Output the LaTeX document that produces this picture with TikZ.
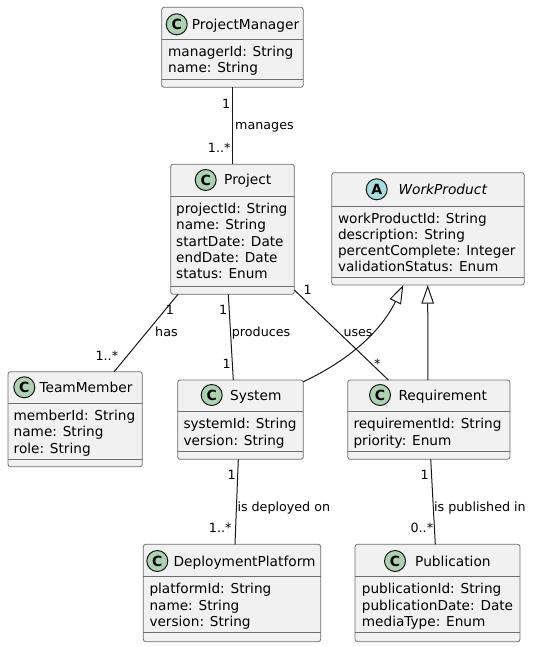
\documentclass[tikz,border=0pt]{standalone}
\usepackage{fontspec}
\setmainfont{DejaVu Sans}
\usetikzlibrary{arrows.meta}
\definecolor{boxfill}{HTML}{F1F1F1}
\definecolor{ink}{HTML}{181818}
\definecolor{frame}{HTML}{6E6E6E}
\definecolor{cgreen}{HTML}{ADD1B2}
\definecolor{acyan}{HTML}{A9DCDF}
\tikzset{
  classbox/.style={draw=frame, fill=boxfill, line width=0.8pt, rounded corners=2.5pt, inner sep=0pt, outer sep=0pt, anchor=north west},
  sepline/.style={draw=frame, line width=0.8pt},
  badge/.style={circle, draw=ink, line width=1pt, minimum size=21pt, inner sep=0pt, font=\fontsize{14}{14}\selectfont\bfseries},
  ctitle/.style={anchor=base west, inner sep=0pt, font=\fontsize{13.75}{16}\selectfont},
  attr/.style={anchor=base west, inner sep=0pt, font=\fontsize{13.65}{16}\selectfont},
  elabel/.style={inner sep=0pt, font=\fontsize{12.7}{15}\selectfont},
  assoc/.style={draw=ink, line width=1pt},
  inherit/.style={draw=ink, line width=1pt, -{Triangle[length=18.6pt,width=12.5pt,fill=white]}},
}
% name, left, top, right, bottom, header separator, attribute separator
\newcommand\umlbox[7]{%
  \node[classbox, minimum width={#4pt-#2pt}, minimum height={#5pt-#3pt}] (#1) at (#2,#3) {};
  \draw[sepline] (#2,#6) -- (#4,#6);
  \draw[sepline] (#2,#7) -- (#4,#7);
}
% name, x, first baseline, list
\newcommand\umlattrs[4]{%
  \foreach \t [count=\i from 0] in {#4} {\node[attr] (#1-a\i) at ({#2},{#3+16.3*\i}) {\t};}
}
\begin{document}
\begin{tikzpicture}[x=1pt,y=-1pt]
\useasboundingbox[fill=white] (0,0) rectangle (534,647);

% ProjectManager
\umlbox{pm}{161.7}{7.3}{303.3}{87.3}{39.3}{79.3}
\node[badge, fill=cgreen] (pm-c) at (176.7,24.3) {C};
\node[ctitle] (pm-t) at (191.7,29.3) {ProjectManager};
\umlattrs{pm}{168}{56.5}{managerId: String, name: String}

% Project
\umlbox{prj}{170.7}{164.3}{294.3}{294.3}{196.7}{286}
\node[badge, fill=cgreen] (prj-c) at (205.7,180) {C};
\node[ctitle] (prj-t) at (224,185) {Project};
\umlattrs{prj}{176}{213.5}{projectId: String, name: String, startDate: Date, endDate: Date, status: Enum}

% WorkProduct
\umlbox{wp}{331.7}{172.7}{524.3}{285}{206}{277.3}
\node[badge, fill=acyan] (wp-c) at (376.7,189.3) {A};
\node[ctitle, font=\fontsize{13.75}{16}\selectfont\itshape] (wp-t) at (398.3,194.3) {WorkProduct};
\umlattrs{wp}{337.8}{223}{workProductId: String, description: String, percentComplete: Integer, validationStatus: Enum}

% TeamMember
\umlbox{tm}{8}{371.7}{142.3}{466.7}{403.3}{459.3}
\node[badge, fill=cgreen] (tm-c) at (24.3,387.3) {C};
\node[ctitle] (tm-t) at (39.3,392.3) {TeamMember};
\umlattrs{tm}{13.5}{420.5}{memberId: String, name: String, role: String}

% System
\umlbox{sys}{177.7}{380}{303.3}{459.3}{411.7}{451.7}
\node[badge, fill=cgreen] (sys-c) at (211.7,395) {C};
\node[ctitle] (sys-t) at (230,400) {System};
\umlattrs{sys}{183.3}{428.7}{systemId: String, version: String}

% Requirement
\umlbox{req}{347.7}{380}{510}{459.3}{411.7}{451.7}
\node[badge, fill=cgreen] (req-c) at (380,395) {C};
\node[ctitle] (req-t) at (398.3,400) {Requirement};
\umlattrs{req}{353.3}{428.7}{requirementId: String, priority: Enum}

% DeploymentPlatform
\umlbox{dp}{143.3}{544.3}{320.7}{641.7}{576.7}{632.7}
\node[badge, fill=cgreen] (dp-c) at (157.3,561) {C};
\node[ctitle] (dp-t) at (173.3,566) {DeploymentPlatform};
\umlattrs{dp}{149.3}{593.7}{platformId: String, name: String, version: String}

% Publication
\umlbox{pub}{355}{544.3}{520}{641.7}{576.7}{632.7}
\node[badge, fill=cgreen] (pub-c) at (395,561) {C};
\node[ctitle] (pub-t) at (415,566) {Publication};
\umlattrs{pub}{361.7}{593.7}{publicationId: String, publicationDate: Date, mediaType: Enum}

% connectors
\draw[assoc] (pm.south) -- (prj.north);
\draw[assoc] ([xshift=7.3pt]prj.south west) -- ([xshift=39pt]tm.north);
\draw[assoc] ([xshift=-4.2pt]prj.south) -- ([xshift=-7.2pt]sys.north);
\draw[assoc] ([yshift=4.3pt]prj.south east) -- ([xshift=-40.5pt]req.north);
\draw[inherit] ([yshift=-1.7pt]sys.north east) .. controls (348.6,360.6) and (381.4,331) .. ([xshift=-24.7pt]wp.south);
\draw[inherit] ([xshift=-1pt]req.north) -- ([xshift=-0.3pt]wp.south);
\draw[assoc] ([xshift=-2.2pt]sys.south) -- ([xshift=3pt]dp.north);
\draw[assoc] ([xshift=1.85pt]req.south) -- ([xshift=-2.2pt]pub.north);

% labels
\node[elabel, anchor=base east] (l-pm1) at (230.5,108.5) {1};
\node[elabel, anchor=base west] (l-pm2) at (235,130) {manages};
\node[elabel, anchor=base east] (l-pm3) at (230.7,152.7) {1..*};

\node[elabel, anchor=base west] (l-tm1) at (165.7,314) {1};
\node[elabel, anchor=base west] (l-tm2) at (155,336.7) {has};
\node[elabel, anchor=base east] (l-tm3) at (118.3,360) {1..*};

\node[elabel, anchor=base east] (l-sy1) at (227.3,314) {1};
\node[elabel, anchor=base west] (l-sy2) at (231.7,336.7) {produces};
\node[elabel, anchor=base east] (l-sy3) at (231,368.3) {1};

\node[elabel, anchor=base west] (l-rq1) at (303.3,294) {1};
\node[elabel, anchor=base west] (l-rq2) at (343.3,336.7) {uses};
\node[elabel, anchor=base west] (l-rq3) at (374,368.3) {*};

\node[elabel, anchor=base east] (l-dp1) at (236,479.3) {1};
\node[elabel, anchor=base west] (l-dp2) at (237.3,511) {is deployed on};
\node[elabel, anchor=base east] (l-dp3) at (231.7,532.3) {1..*};

\node[elabel, anchor=base east] (l-pb1) at (429,479.3) {1};
\node[elabel, anchor=base west] (l-pb2) at (434,511) {is published in};
\node[elabel, anchor=base east] (l-pb3) at (433.3,532.3) {0..*};
\end{tikzpicture}
\end{document}
